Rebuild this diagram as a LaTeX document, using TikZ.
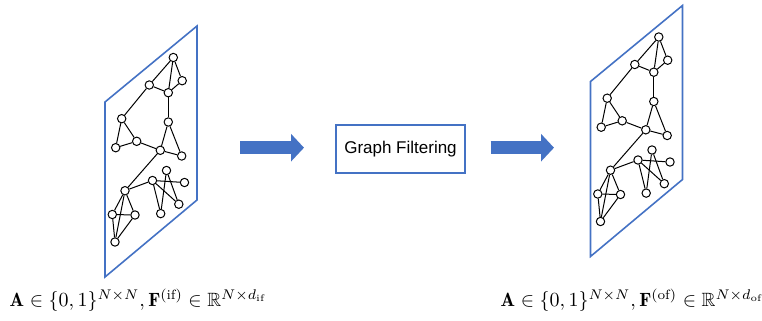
\documentclass[tikz,border=0pt]{standalone}
\usepackage{amsmath}
\usepackage{amssymb}
\usepackage{fontspec}
\setsansfont{Liberation Sans}
\usepackage{tikz}
\usetikzlibrary{arrows.meta,positioning}

\definecolor{panelblue}{HTML}{4472C4}

\begin{document}
\begin{tikzpicture}[
    x=0.5pt, y=-0.5pt,
    vertex/.style={circle, draw=black, fill=white, line width=0.5pt, inner sep=0pt, minimum size=4.2pt},
    edge/.style={line width=0.5pt, draw=black},
    panel/.style={draw=panelblue, line width=0.8pt},
    filterbox/.style={rectangle, draw=panelblue, line width=0.6pt, minimum width=64.5pt, minimum height=24pt, font=\sffamily\fontsize{8.5}{10}\selectfont},
    blockarrow/.style={draw=panelblue, line width=6.5pt, -{Triangle[length=6.5pt, width=13.5pt]}},
    caption/.style={font=\fontsize{9.6}{12}\selectfont}
]
    \useasboundingbox (0,0) rectangle (762,321);

    % input graph (L) and filtered graph (R)
    \foreach \side/\dx/\dy in {L/0/0, R/485.5/-20.5}{
      \begin{scope}[shift={(\dx,\dy)}]
        \draw [panel] (105,102) -- (197,26) -- (197,200) -- (105,277) -- cycle;
        \foreach \n/\px/\py in {1/173.3/57.5, 2/182.2/80.7, 3/149.3/85, 4/168.3/92.7,
            5/168.3/122, 6/121.7/118.7, 7/136.7/141.3, 8/115.7/147.7, 9/160.3/150.3,
            10/181.7/156, 11/166.5/170.5, 12/152.5/180.5, 13/184.5/182.5, 14/125/190.7,
            15/178.8/204.2, 16/112.3/214.5, 17/135/215, 18/160.7/213.6, 19/115/242}
          \node [vertex] (\side\n) at (\px,\py) {};
        \foreach \a/\b in {1/2, 1/3, 1/4, 2/4, 3/4, 4/5, 3/6, 6/7, 6/8, 7/8, 7/9,
            5/9, 5/10, 9/10, 9/14, 14/12, 14/16, 14/17, 14/19, 16/17, 16/19, 17/19,
            12/13, 12/15, 12/18, 11/15, 11/18}
          \draw [edge] (\side\a) -- (\side\b);
      \end{scope}
    }

    \node [filterbox] (filter) at (400.5,149) {Graph Filtering};

    \coordinate (inStart) at (240,147.7);
    \coordinate (inEnd) at (304,147.7);
    \coordinate (outStart) at (490.7,147.7);
    \coordinate (outEnd) at (554,147.7);
    \draw [blockarrow] (inStart) -- (inEnd);
    \draw [blockarrow] (outStart) -- (outEnd);

    \node [caption] (capL) at (138,300) {$\mathbf{A}\in\{0,1\}^{N\times N},\mathbf{F}^{(\mathrm{if})}\in\mathbb{R}^{N\times d_{\mathrm{if}}}$};
    \node [caption] (capR) at (632,300) {$\mathbf{A}\in\{0,1\}^{N\times N},\mathbf{F}^{(\mathrm{of})}\in\mathbb{R}^{N\times d_{\mathrm{of}}}$};
\end{tikzpicture}
\end{document}
